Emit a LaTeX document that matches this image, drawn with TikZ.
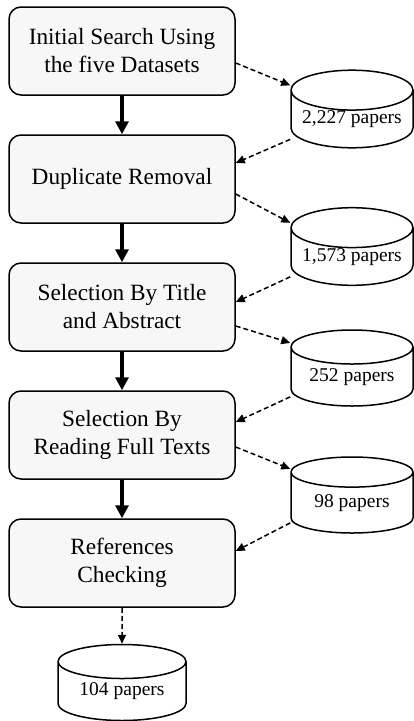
\documentclass[tikz,border=0pt]{standalone}
\usepackage{fontspec}
\setmainfont{Liberation Serif}
\usetikzlibrary{shapes.geometric,arrows.meta,positioning}

\begin{document}
\begin{tikzpicture}[x=1pt, y=1pt, node distance=128pt]
        \tikzstyle{block} = [rectangle, draw, line width=1.5pt, fill=gray!6, align=center, rounded corners=12pt, minimum height=88pt, minimum width=226pt, font=\fontsize{23.3}{28}\selectfont]
        \tikzstyle{db} = [cylinder, draw, line width=1.5pt, shape border rotate=90, aspect=0.4, minimum width=122pt, minimum height=76pt, inner sep=0pt, anchor=shape center, font=\fontsize{19.5}{23}\selectfont]
        \tikzstyle{flow} = [draw, line width=4.3pt, -{Triangle[length=13pt,width=13pt]}]
        \tikzstyle{dline} = [draw, line width=1.5pt, dash pattern=on 5pt off 3pt, -{Triangle[length=9pt,width=8pt]}]

        \useasboundingbox (0,0) rectangle (413,-721);

        \node [block] (search) at (122,-51) {Initial Search Using\\the five Datasets};
        \node [block, below of=search] (dup) {Duplicate Removal};
        \node [block, below of=dup] (title) {Selection By Title\\and Abstract};
        \node [block, below of=title] (full) {Selection By\\Reading Full Texts};
        \node [block, below of=full] (refs) {References\\Checking};

        \node [db] (p1) at (352,-109) {2,227 papers};
        \node [db] (p2) at (352,-246.5) {1,573 papers};
        \node [db] (p3) at (352,-368) {252 papers};
        \node [db] (p4) at (352,-495) {98 papers};
        \node [db, minimum width=128pt] (p5) at (122,-682.5) {104 papers};

        \path [flow] (search) -- (dup);
        \path [flow] (dup) -- (title);
        \path [flow] (title) -- (full);
        \path [flow] (full) -- (refs);

        \path [dline] ([yshift=-12pt]search.east) -- ([yshift=34pt]p1.west);
        \path [dline] ([yshift=-20pt]p1.west) -- ([yshift=16pt]dup.east);
        \path [dline] ([yshift=-15pt]dup.east) -- ([yshift=34pt]p2.west);
        \path [dline] ([yshift=-20pt]p2.west) -- ([yshift=5pt]title.east);
        \path [dline] ([yshift=-19pt]title.east) -- ([yshift=34pt]p3.west);
        \path [dline] ([yshift=-20pt]p3.west) -- ([yshift=13pt]full.east);
        \path [dline] ([yshift=-12pt]full.east) -- ([yshift=34pt]p4.west);
        \path [dline] ([yshift=-20pt]p4.west) -- ([yshift=12pt]refs.east);
        \path [dline] (refs) -- (p5);
    \end{tikzpicture}
\end{document}
